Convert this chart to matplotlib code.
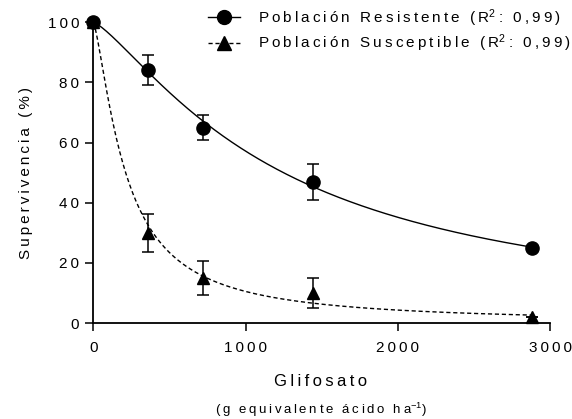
import numpy as np
import matplotlib.pyplot as plt
from matplotlib.lines import Line2D

plt.rcParams['font.family'] = ['Liberation Sans', 'DejaVu Sans']
plt.rcParams['mathtext.fontset'] = 'custom'
plt.rcParams['mathtext.rm'] = 'Liberation Sans'
plt.rcParams['mathtext.default'] = 'regular'

dosis = [0, 360, 720, 1440, 2880]
resistente = [100, 84, 65, 47, 25]
resistente_err = [0, 5, 4, 6, 0]
susceptible = [100, 30, 15, 10, 2]
susceptible_err = [0, 6.3, 5.7, 5, 0]


def spaced(s):
    # loose letter spacing like the original figure
    return '\u2009'.join(s)


def ajuste(x, y):
    # log-logistic fit, linearised: log(100/y - 1) = b*log(x) - b*log(e)
    x = np.array(x[1:], float)
    y = np.array(y[1:], float)
    b, a = np.polyfit(np.log(x), np.log(100.0 / y - 1), 1)
    xs = np.linspace(0, x.max(), 400)
    return xs, 100.0 / (1 + np.exp(a) * xs ** b)


fig = plt.figure(figsize=(5.72, 4.19), dpi=100)
ax = fig.add_axes([0.163, 0.229, 0.799, 0.718])

xr, yr = ajuste(dosis, resistente)
xs, ys = ajuste(dosis, susceptible)
ax.plot(xr, yr, color='black', lw=1.0, clip_on=False)
ax.plot(xs, ys, color='black', lw=1.0, ls=(0, (3, 2)), clip_on=False)

ax.errorbar(dosis, resistente, yerr=resistente_err, fmt='o', color='black', ms=9.5,
            capsize=4.3, elinewidth=1.1, capthick=1.1, clip_on=False, zorder=5)
ax.errorbar(dosis, susceptible, yerr=susceptible_err, fmt='^', color='black', ms=9,
            capsize=4.3, elinewidth=1.1, capthick=1.1, clip_on=False, zorder=5)

ax.set_xlim(0, 3000)
ax.set_ylim(0, 100)
ax.set_xticks([0, 1000, 2000, 3000])
ax.set_xticklabels([spaced(t) for t in ['0', '1000', '2000', '3000']])
ax.set_yticks([0, 20, 40, 60, 80, 100])
ax.set_yticklabels([spaced(t) for t in ['0', '20', '40', '60', '80', '100']])
ax.tick_params(labelsize=11, width=1.1, length=6, direction='out', pad=4)
ax.tick_params(axis='x', pad=7)
for s in ['top', 'right']:
    ax.spines[s].set_visible(False)
for s in ['left', 'bottom']:
    ax.spines[s].set_linewidth(1.3)

ax.set_ylabel(spaced('Supervivencia (%)'), fontsize=11, labelpad=11)
fig.text(0.561, 1 - 381 / 419, spaced('Glifosato'), ha='center', va='center', fontsize=12)
fig.text(0.561, 1 - 410 / 419, spaced('(g equivalente ácido ha') + '$^{-1}$)',
         ha='center', va='center', fontsize=9.5)

handles = [
    Line2D([], [], color='black', lw=1.0, marker='o', ms=10),
    Line2D([], [], color='black', lw=1.0, ls=(0, (3, 2)), marker='^', ms=9.5),
]
labels = [
    spaced('Población Resistente (R') + '$^2$' + '\u2009' + spaced(': 0,99)'),
    spaced('Población Susceptible (R') + '$^2$' + '\u2009' + spaced(': 0,99)'),
]
fig.legend(handles, labels, loc='upper left', bbox_to_anchor=(208 / 572, 1 - 7 / 419),
           frameon=False, fontsize=11, handlelength=2.1, handletextpad=1.2,
           labelspacing=0.28, borderpad=0, borderaxespad=0)

fig.savefig('out.png', dpi=100)
